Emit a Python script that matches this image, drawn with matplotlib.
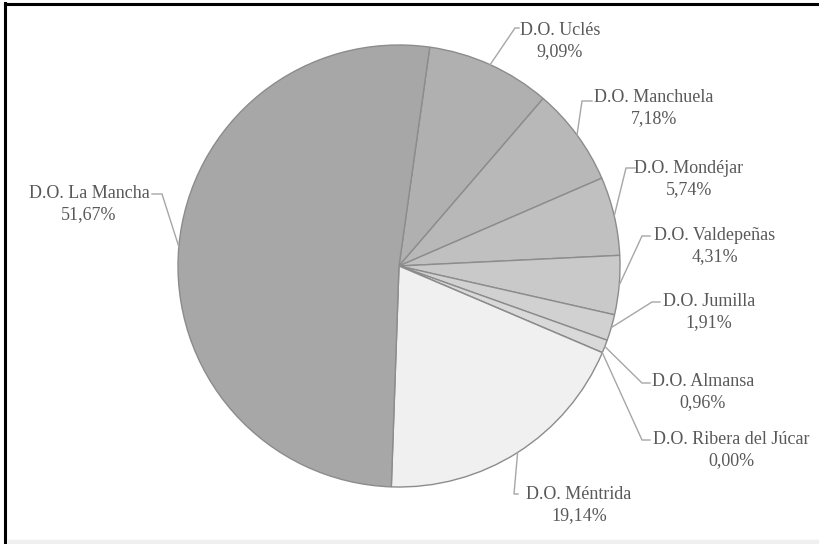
import matplotlib
matplotlib.use('Agg')
import matplotlib.pyplot as plt
import numpy as np
from matplotlib.lines import Line2D
from matplotlib.patches import Rectangle

categories = ['D.O. Uclés', 'D.O. Manchuela', 'D.O. Mondéjar', 'D.O. Valdepeñas',
              'D.O. Jumilla', 'D.O. Almansa', 'D.O. Ribera del Júcar',
              'D.O. Méntrida', 'D.O. La Mancha']
values = [9.09, 7.18, 5.74, 4.31, 1.91, 0.96, 0.00, 19.14, 51.67]
pct_labels = ['9,09%', '7,18%', '5,74%', '4,31%', '1,91%', '0,96%', '0,00%',
              '19,14%', '51,67%']
colors = ['#b0b0b0', '#b8b8b8', '#c0c0c0', '#c9c9c9', '#d1d1d1', '#d9d9d9',
          '#e0e0e0', '#f0f0f0', '#a7a7a7']

W, H = 819, 544
CX, CY, R = 399, H - 266, 221
START = 82

# label layout: text centre (pixel coords, y down), elbow point, line end
label_pos = [(560, 41), (654, 108), (689, 179), (715, 246), (709, 312),
             (703, 392), (731, 450), (579, 505), (89, 204)]
elbows = [(515, 28), (582, 101), (626, 168), (642, 236), (652, 302),
          (642, 383), (642, 440), (514, 494), (162, 194)]
ends = [(519, 28), (592, 101), (635, 168), (650, 236), (660, 302),
        (650, 383), (650, 440), (518, 494), (152, 194)]

plt.rcParams['font.family'] = ['Liberation Serif', 'DejaVu Serif']

fig = plt.figure(figsize=(W / 100, H / 100), dpi=100)
ax = fig.add_axes([0, 0, 1, 1])
ax.pie(values, colors=colors, startangle=START, counterclock=False,
       center=(CX, CY), radius=R, frame=True,
       wedgeprops=dict(edgecolor='#8c8c8c', linewidth=1.0))
ax.set_xlim(0, W)
ax.set_ylim(0, H)
ax.set_aspect('auto')
ax.axis('off')

total = sum(values)
cum = np.cumsum([0] + values)
for i, (cat, pct) in enumerate(zip(categories, pct_labels)):
    mid = START - (cum[i] + values[i] / 2) / total * 360
    sx = CX + R * np.cos(np.radians(mid))
    sy = CY + R * np.sin(np.radians(mid))
    ex, ey = elbows[i]
    tx, ty = ends[i]
    ax.plot([sx, ex, tx], [sy, H - ey, H - ty], color='#a6a6a6', lw=1.0,
            solid_joinstyle='miter')
    lx, ly = label_pos[i]
    ax.text(lx, H - ly, f'{cat}\n{pct}', ha='center', va='center',
            multialignment='center', fontsize=13, color='#595959',
            linespacing=1.35)

# frame borders
fig.add_artist(Line2D([5 / W, 1], [1 - 4 / H, 1 - 4 / H], color='black', lw=2.2,
                      transform=fig.transFigure))
fig.add_artist(Line2D([5 / W, 5 / W], [0, 1 - 3 / H], color='black', lw=2.2,
                      transform=fig.transFigure))
fig.add_artist(Rectangle((8 / W, 0), 1, 4 / H, color='#efefef',
                         transform=fig.transFigure))

fig.savefig('out.png', dpi=100)
